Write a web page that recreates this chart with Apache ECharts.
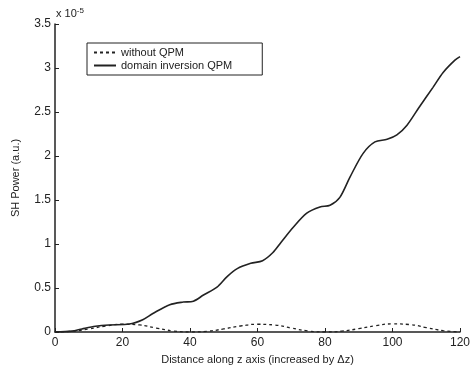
<!DOCTYPE html>
<html>
<head>
<meta charset="utf-8">
<script src="https://cdn.jsdelivr.net/npm/echarts@6/dist/echarts.min.js"></script>
<style>
  html, body { margin: 0; padding: 0; background: #fff; }
  #chart { width: 475px; height: 371px; }
</style>
</head>
<body>
<div id="chart"></div>
<script>
// values in units of 1e-5
const zQpm = [0, 5, 8, 12, 16, 22, 26, 29, 34, 38, 41, 44, 48, 51, 54, 58, 61.5, 64.5, 67, 70.6, 74.6, 78.5, 81.5, 84.4, 87.4, 91.3, 94.8, 98.4, 101.3, 104.3, 108, 112, 115, 118.5, 120]
const pQpm = [0, 0.01, 0.035, 0.065, 0.08, 0.09, 0.14, 0.21, 0.31, 0.34, 0.35, 0.42, 0.51, 0.63, 0.72, 0.78, 0.81, 0.9, 1.02, 1.19, 1.35, 1.42, 1.44, 1.53, 1.76, 2.03, 2.16, 2.19, 2.24, 2.35, 2.56, 2.78, 2.95, 3.09, 3.13]

const zNo = [0, 5, 10, 15, 20, 25, 30, 35, 40, 45, 50, 55, 60, 65, 70, 75, 80, 85, 90, 95, 100, 105, 110, 115, 120]
const pNo = [0, 0.008, 0.035, 0.068, 0.088, 0.08, 0.045, 0.012, 0, 0.008, 0.035, 0.068, 0.088, 0.08, 0.045, 0.012, 0, 0.01, 0.038, 0.072, 0.092, 0.085, 0.05, 0.015, 0]

const xTicks = [0, 20, 40, 60, 80, 100, 120]
const yTicks = [0, 0.5, 1, 1.5, 2, 2.5, 3, 3.5]

const pairs = (xs, ys) => xs.map((x, i) => [x, ys[i]])
const ink = '#222'
const font = 'Liberation Sans, Arial, sans-serif'

const chart = echarts.init(document.getElementById('chart'))
chart.setOption({
    animation: false,
    backgroundColor: '#fff',
    grid: { left: 55, right: 15, top: 24, bottom: 39 },
    legend: {
        orient: 'vertical',
        left: 87,
        top: 43,
        width: 166,
        padding: [4, 30, 4, 6],
        itemGap: 2,
        itemWidth: 22,
        itemHeight: 10,
        borderColor: ink,
        borderWidth: 1,
        borderRadius: 0,
        itemStyle: { opacity: 0 },
        textStyle: { color: ink, fontSize: 11, fontFamily: font },
        data: ['without QPM', 'domain inversion QPM']
    },
    graphic: [{
        type: 'text',
        left: 56,
        top: 7,
        style: {
            text: '{a|x 10}{b|-5}',
            rich: {
                a: { fontSize: 11, fill: ink, fontFamily: font },
                b: { fontSize: 8, fill: ink, fontFamily: font, verticalAlign: 'top', padding: [0, 0, 6, 0] }
            }
        }
    }],
    xAxis: {
        type: 'value',
        min: 0,
        max: 120,
        interval: 20,
        name: 'Distance along z axis (increased by \u0394z)',
        nameLocation: 'middle',
        nameGap: 22,
        nameTextStyle: { color: ink, fontSize: 11, fontFamily: font },
        axisLine: { lineStyle: { color: ink, width: 1.5 } },
        axisTick: { inside: true, length: 4, lineStyle: { color: ink } },
        axisLabel: { color: ink, fontSize: 12, fontFamily: font, margin: 5,
            formatter: v => xTicks.includes(v) ? String(v) : '' },
        splitLine: { show: false }
    },
    yAxis: {
        type: 'value',
        min: 0,
        max: 3.5,
        interval: 0.5,
        name: 'SH Power (a.u.)',
        nameLocation: 'middle',
        nameGap: 34,
        nameTextStyle: { color: ink, fontSize: 11, fontFamily: font },
        axisLine: { show: true, lineStyle: { color: ink, width: 1.5 } },
        axisTick: { show: true, inside: true, length: 4, lineStyle: { color: ink } },
        axisLabel: { color: ink, fontSize: 12, fontFamily: font, margin: 4,
            formatter: v => yTicks.includes(v) ? String(v) : '' },
        splitLine: { show: false }
    },
    series: [
        {
            name: 'without QPM',
            type: 'line',
            smooth: true,
            symbol: 'none',
            color: ink,
            lineStyle: { color: ink, width: 1.3, type: [3, 3] },
            data: pairs(zNo, pNo)
        },
        {
            name: 'domain inversion QPM',
            type: 'line',
            smooth: 0.3,
            symbol: 'none',
            color: ink,
            lineStyle: { color: ink, width: 1.6 },
            data: pairs(zQpm, pQpm)
        }
    ]
})
</script>
</body>
</html>
